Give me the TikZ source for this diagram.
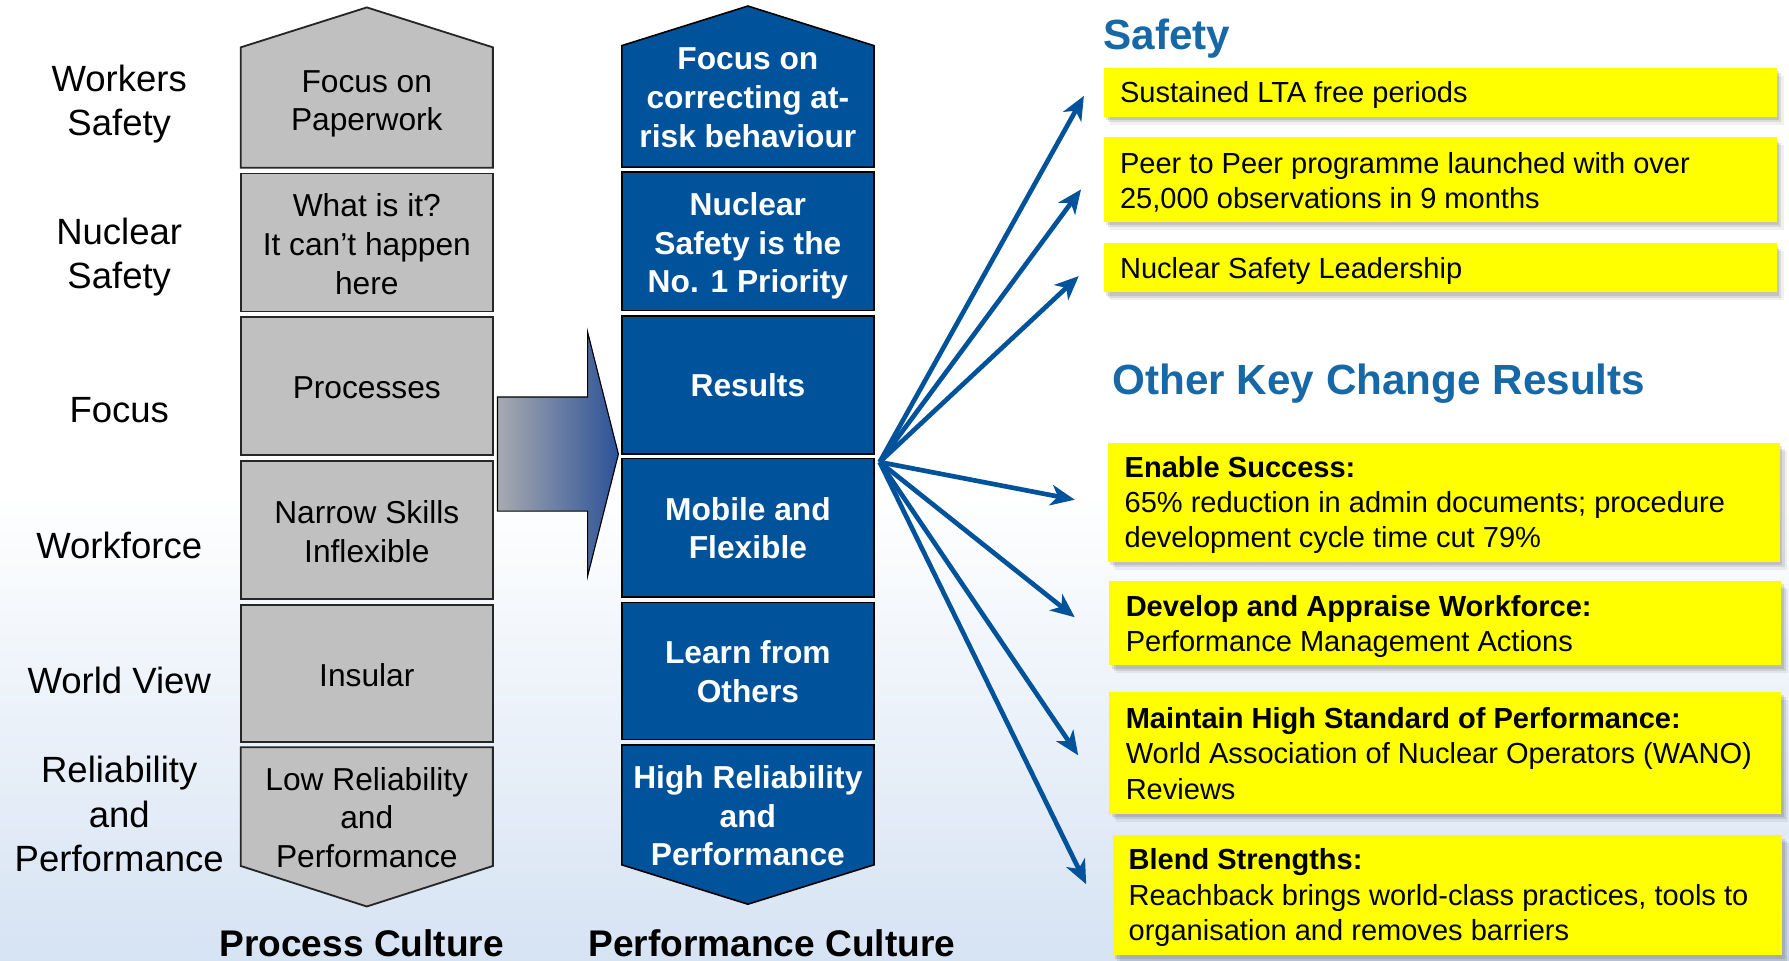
\documentclass[tikz,border=0pt]{standalone}
\usepackage{fontspec}
\setmainfont{Liberation Sans}
\usetikzlibrary{arrows.meta,calc}
\definecolor{boxblue}{RGB}{0,82,155}
\definecolor{boxgray}{RGB}{192,192,192}
\definecolor{headblue}{RGB}{22,104,166}
\definecolor{bgblue}{RGB}{214,227,243}
\definecolor{arrgray}{RGB}{168,170,176}
\definecolor{arrblue}{RGB}{44,82,152}
\definecolor{ylw}{RGB}{255,255,0}
\begin{document}
\begin{tikzpicture}[x=1pt,y=-1pt,
  lbl/.style={align=center,inner sep=0pt,font=\fontsize{32}{38.7}\selectfont},
  graytxt/.style={align=center,inner sep=0pt,font=\fontsize{27.8}{34}\selectfont},
  bluetxt/.style={align=center,inner sep=0pt,text=white,font=\fontsize{27.8}{34}\selectfont\bfseries},
  grayshape/.style={fill=boxgray,draw=black!85,line width=1.6pt,line join=miter},
  blueshape/.style={fill=boxblue,draw=black,line width=1.4pt,line join=miter},
  shadowy/.style={
    preaction={fill=black,opacity=0.10,transform canvas={xshift=2pt,yshift=-3pt}},
    preaction={fill=black,opacity=0.09,transform canvas={xshift=4pt,yshift=-5pt}},
    preaction={fill=black,opacity=0.06,transform canvas={xshift=6pt,yshift=-7pt}}},
  yrect/.style={shadowy,fill=ylw,anchor=north west,inner sep=0pt},
  ytext/.style={anchor=west,inner sep=0pt,align=left,font=\fontsize{25.45}{31}\selectfont},
  fan/.style={draw=boxblue,line width=4.1pt,-{Stealth[length=21pt,width=18pt,inset=6pt]}},
  heading/.style={text=headblue,font=\fontsize{37}{42}\selectfont\bfseries,anchor=base west,inner sep=0pt},
  caption/.style={font=\fontsize{32.5}{38}\selectfont\bfseries,anchor=base,inner sep=0pt},
]
% background
\fill[white] (0,0) rectangle (1568,842);
\shade[top color=white,bottom color=bgblue] (0,430) rectangle (1568,842);
\useasboundingbox (0,0) rectangle (1568,842);

% left labels
\node[lbl] (l1) at (104.5,91.5) {Workers\\Safety};
\node[lbl] (l2) at (104.5,225.5) {Nuclear\\Safety};
\node[lbl] (l3) at (104.5,359.5) {Focus};
\node[lbl] (l4) at (104.5,478) {Workforce};
\node[lbl] (l5) at (104.5,596) {World View};
\node[lbl] (l6) at (104.5,713.5) {Reliability\\and\\Performance};

% gray column (process culture)
\path[grayshape] (211,147) -- (211,41.5) -- (321.5,6.5) -- (432,41.5) -- (432,147) -- cycle;
\path[grayshape] (211,152) rectangle (432,273);
\path[grayshape] (211,278) rectangle (432,399);
\path[grayshape] (211,404) rectangle (432,525);
\path[grayshape] (211,530) rectangle (432,650);
\path[grayshape] (211,655) -- (432,655) -- (432,759) -- (321.5,794.5) -- (211,759) -- cycle;
\node[graytxt] (g1) at (321.5,91) {Focus on\\Paperwork};
\node[graytxt] (g2) at (321.5,214) {What is it?\\It can’t happen\\here};
\node[graytxt] (g3) at (321.5,340) {Processes};
\node[graytxt] (g4) at (321.5,466) {Narrow Skills\\Inflexible};
\node[graytxt] (g5) at (321.5,592) {Insular};
\node[graytxt] (g6) at (321.5,716.5) {Low Reliability\\and\\Performance};

% blue column (performance culture)
\path[blueshape] (545,146.5) -- (545,40) -- (655.5,5.3) -- (766,40) -- (766,146.5) -- cycle;
\path[blueshape] (545,151) rectangle (766,272);
\path[blueshape] (545,277) rectangle (766,398);
\path[blueshape] (545,402) rectangle (766,523);
\path[blueshape] (545,528) rectangle (766,648);
\path[blueshape] (545,653) -- (766,653) -- (766,758) -- (655.5,792.5) -- (545,758) -- cycle;
\node[bluetxt] (b1) at (655.5,85.5) {Focus on\\correcting at-\\risk behaviour};
\node[bluetxt] (b2) at (655.5,215.5) {Nuclear\\Safety is the\\No. 1 Priority};
\node[bluetxt] (b3) at (655.5,337.5) {Results};
\node[bluetxt] (b4) at (655.5,463) {Mobile and\\Flexible};
\node[bluetxt] (b5) at (655.5,589) {Learn from\\Others};
\node[bluetxt] (b6) at (655.5,715) {High Reliability\\and\\Performance};

% big transition arrow
\path[left color=arrgray,right color=arrblue,draw=black,line width=1pt,line join=miter]
  (436,348) -- (515,348) -- (515,291) -- (542,398) -- (515,505) -- (515,448) -- (436,448) -- cycle;

% captions
\node[caption] (c1) at (317,838) {Process Culture};
\node[caption] (c2) at (676.5,838) {Performance Culture};

% headings
\node[heading] (h1) at (967,43) {Safety};
\node[heading] (h2) at (975,345.5) {Other Key Change Results};

% yellow boxes
\node[yrect,minimum width=590pt,minimum height=43pt] (y1) at (967,59) {};
\node[yrect,minimum width=590pt,minimum height=74pt] (y2) at (967,120) {};
\node[yrect,minimum width=590pt,minimum height=43pt] (y3) at (967,213) {};
\node[yrect,minimum width=589pt,minimum height=104pt] (e1) at (971,388) {};
\node[yrect,minimum width=589pt,minimum height=74pt] (e2) at (972,509) {};
\node[yrect,minimum width=589pt,minimum height=107pt] (e3) at (972,606) {};
\node[yrect,minimum width=587pt,minimum height=105pt] (e4) at (975,732) {};
\node[ytext] (y1t) at ($(y1.west)+(14.5,2.5)$) {Sustained LTA free periods};
\node[ytext] (y2t) at ($(y2.west)+(14.5,2.5)$) {Peer to Peer programme launched with over\\25,000 observations in 9 months};
\node[ytext] (y3t) at ($(y3.west)+(14.5,2.5)$) {Nuclear Safety Leadership};
\node[ytext] (e1t) at ($(e1.west)+(14.5,2.5)$) {\textbf{Enable Success:}\\65\% reduction in admin documents; procedure\\development cycle time cut 79\%};
\node[ytext] (e2t) at ($(e2.west)+(14.5,3)$) {\textbf{Develop and Appraise Workforce:}\\Performance Management Actions};
\node[ytext] (e3t) at ($(e3.west)+(14.5,0.5)$) {\textbf{Maintain High Standard of Performance:}\\World Association of Nuclear Operators (WANO)\\Reviews};
\node[ytext] (e4t) at ($(e4.west)+(14,2)$) {\textbf{Blend Strengths:}\\Reachback brings world-class practices, tools to\\organisation and removes barriers};

% fan of arrows
\coordinate (fo) at (771,405);
\coordinate (t1) at (950,84);
\coordinate (t2) at (947.5,166);
\coordinate (t3) at (945.5,242);
\coordinate (t4) at (942,438);
\coordinate (t5) at (942,541);
\coordinate (t6) at (945,662);
\coordinate (t7) at (952,775);
\foreach \t in {t1,t2,t3,t4,t5,t6,t7} \draw[fan] (fo) -- (\t);
\end{tikzpicture}
\end{document}
